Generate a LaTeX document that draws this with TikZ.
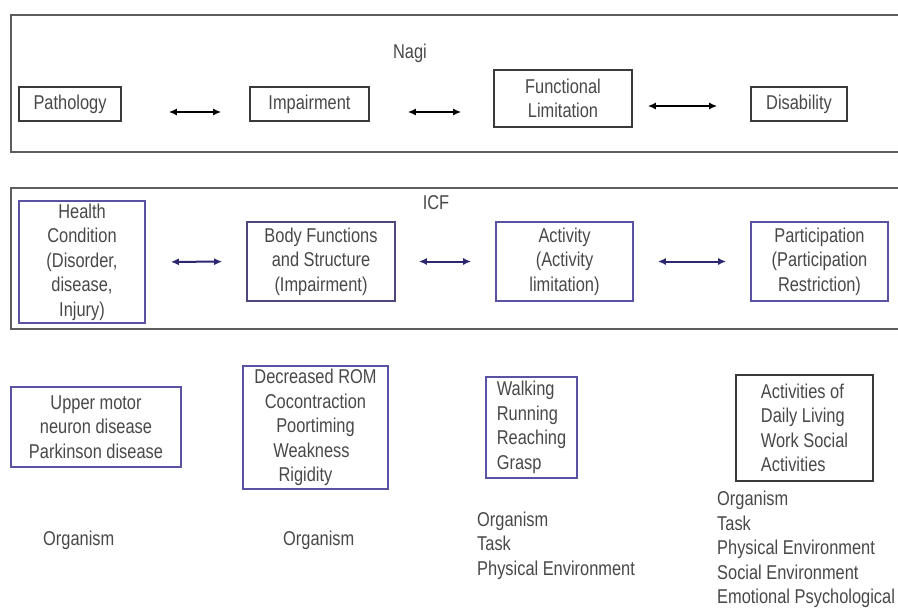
\documentclass[tikz,border=0pt]{standalone}
\usepackage{fontspec}
\setmainfont{Liberation Sans}[FakeStretch=0.82]
\usetikzlibrary{arrows.meta}
\definecolor{txt}{HTML}{484848}
\definecolor{boxgray}{HTML}{3A3A3A}
\definecolor{pur}{HTML}{5A52A3}
\definecolor{navy}{HTML}{2B2870}
\definecolor{panel}{HTML}{5E5E5E}
\begin{document}
\begin{tikzpicture}[x=1pt,y=-1pt,
  lbl/.style={font=\fontsize{20}{24.5}\selectfont, text=txt, inner sep=0pt, align=center},
  gbox/.style={lbl, draw=boxgray, line width=1.6pt},
  pbox/.style={lbl, draw=pur, line width=1.6pt},
  panelline/.style={draw=panel, line width=2.4pt},
  arrblk/.style={draw=black, line width=2pt, {Latex[length=8pt,width=7pt]}-{Latex[length=8pt,width=7pt]}},
  arrnav/.style={draw=navy, line width=2pt, {Latex[length=8pt,width=7pt]}-{Latex[length=8pt,width=7pt]}}
]
\useasboundingbox (0,0) rectangle (898,608);

% panels
\draw[panelline] (898,15) -- (11,15) -- (11,152) -- (898,152);
\draw[panelline] (898,188) -- (11,188) -- (11,329) -- (898,329);

% Nagi row
\node[lbl] (nagi) at (410,53) {Nagi};
\node[gbox, minimum width=102pt, minimum height=34pt] (pat) at (70,104) {Pathology};
\node[gbox, minimum width=119pt, minimum height=34pt] (imp) at (309.5,104) {Impairment};
\node[gbox, minimum width=138pt, minimum height=57pt] (fl) at (563,98.5) {Functional\\Limitation};
\node[gbox, minimum width=96pt, minimum height=34pt] (dis) at (799,104) {Disability};

\draw[arrblk, shorten <=47pt, shorten >=28pt] ([yshift=-8pt]pat.east) -- ([yshift=-8pt]imp.west);
\draw[arrblk, shorten <=38pt, shorten >=32pt] ([yshift=-8pt]imp.east) -- ([yshift=-13.5pt]fl.west);
\draw[arrblk, shorten <=15pt, shorten >=33pt] ([yshift=-7.5pt]fl.east) -- ([yshift=-2pt]dis.west);

% ICF row
\node[lbl] (icf) at (436,203) {ICF};
\node[pbox, minimum width=126pt, minimum height=122pt] (hc) at (82,262) {Health\\Condition\\(Disorder,\\disease,\\Injury)};
\node[gbox, draw=pur!60!boxgray, minimum width=148pt, minimum height=79pt] (bf) at (321,261.5) {Body Functions\\and Structure\\(Impairment)};
\node[pbox, minimum width=137pt, minimum height=79pt] (act) at (564.5,261.5) {Activity\\(Activity\\limitation)};
\node[pbox, minimum width=137pt, minimum height=79pt] (par) at (819.5,261.5) {Participation\\(Participation\\Restriction)};

\draw[arrnav, shorten <=25pt, shorten >=24pt] (hc.east) -- (bf.west);
\draw[arrnav, shorten <=23pt, shorten >=24pt] (bf.east) -- (act.west);
\draw[arrnav, shorten <=24pt, shorten >=24pt] (act.east) -- (par.west);

% bottom boxes
\node[pbox, minimum width=170pt, minimum height=80pt] (umn) at (96,427) {Upper motor\\neuron disease\\Parkinson disease};
\node[pbox, minimum width=145pt, minimum height=123pt] (rom) at (315.5,427.5) {Decreased ROM\\Cocontraction\\Poortiming\\\hspace*{-8pt}Weakness\\\hspace*{-20pt}Rigidity};
\node[pbox, minimum width=91pt, minimum height=101pt, align=left] (walk) at (531.5,427.5) {Walking\\Running\\Reaching\\Grasp};
\node[gbox, minimum width=137pt, minimum height=106pt, align=left] (adl) at (804.5,428) {Activities of\\Daily Living\\Work Social\\Activities};

% bottom texts
\node[lbl, anchor=west] (org1) at (43,540) {Organism};
\node[lbl, anchor=west] (org2) at (283,540) {Organism};
\node[lbl, anchor=west, align=left] (env3) at (477,545.5) {Organism\\Task\\Physical Environment};
\node[lbl, anchor=west, align=left] (env4) at (717,549.5) {Organism\\Task\\Physical Environment\\Social Environment\\Emotional Psychological};
\end{tikzpicture}
\end{document}
